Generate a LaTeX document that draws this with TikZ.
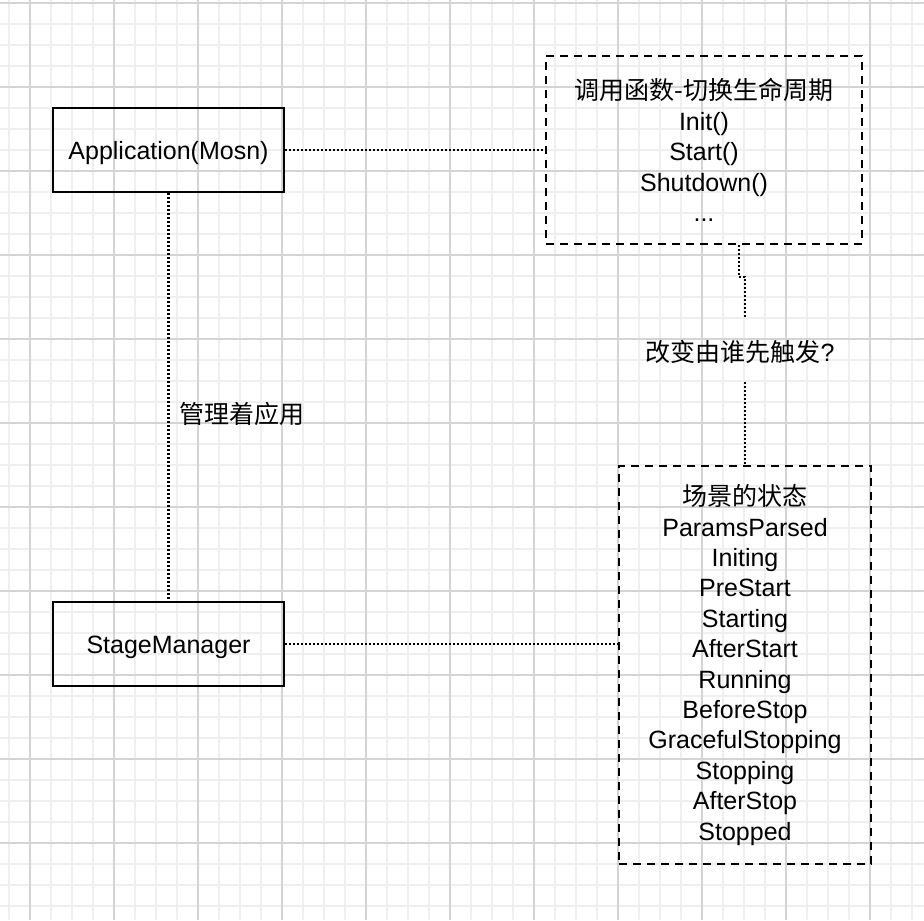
\documentclass[tikz,border=0pt]{standalone}
\usepackage{fontspec}
\setmainfont{Liberation Sans}
\newfontfamily\cjk{Noto Sans CJK SC}
\usetikzlibrary{positioning,calc}
\definecolor{gridminor}{HTML}{EFEFEF}
\definecolor{gridmajor}{HTML}{D4D4D4}

\begin{document}
\begin{tikzpicture}[x=0.5pt,y=-0.5pt,
  txt/.style={font=\fontsize{12.5}{15.2}\selectfont},
  box/.style={txt,draw,line width=1.1pt,minimum width=115.5pt,minimum height=42pt,text height=12pt,text depth=2.2pt},
  note/.style={txt,draw,line width=1pt,dash pattern=on 4pt off 3pt,align=center},
  link/.style={line width=1.2pt,dash pattern=on 1pt off 1pt}]
  \useasboundingbox (0,0) rectangle (924,920);
  \fill[white] (0,0) rectangle (924,920);
  % grid
  \foreach \i in {0,...,43} {
    \draw[gridminor,line width=0.9pt] ({9+21*\i},0) -- ({9+21*\i},920);
    \draw[gridminor,line width=0.9pt] (0,{3+21*\i}) -- (924,{3+21*\i});
  }
  \foreach \i in {0,...,10} {
    \draw[gridmajor,line width=0.9pt] ({30+84*\i},0) -- ({30+84*\i},920);
    \draw[gridmajor,line width=0.9pt] (0,{3+84*\i}) -- (924,{3+84*\i});
  }

  \node[box] (app) at (168.5,150) {Application(Mosn)};
  \node[box] (mgr) at (168.5,644) {StageManager};
  \node[note,minimum width=158pt,minimum height=94pt] (calls) at (704,150)
    {{\cjk 调用函数-切换生命周期}\\Init()\\Start()\\Shutdown()\\...};
  \node[note,minimum width=126pt,minimum height=199pt] (states) at (745,665)
    {{\cjk 场景的状态}\\ParamsParsed\\Initing\\PreStart\\Starting\\AfterStart\\Running\\BeforeStop\\GracefulStopping\\Stopping\\AfterStop\\Stopped};
  \node[txt,anchor=west] (manage) at (172,414) {\cjk 管理着应用};
  \node[txt] (who) at (740,352) {{\cjk 改变由谁先触发}?};
  \coordinate (kink) at (739,277);
  \coordinate (gapT) at (745,318);
  \coordinate (gapB) at (745,382);

  \draw[link] (app.east) -- (calls.west);
  \draw[link] (app.south) -- (mgr.north);
  \draw[link] (mgr.east) -- (mgr.east -| states.west);
  \draw[link] (calls.south -| kink) -- (kink) -| (gapT);
  \draw[link] (gapB) -- (states.north);
\end{tikzpicture}
\end{document}
